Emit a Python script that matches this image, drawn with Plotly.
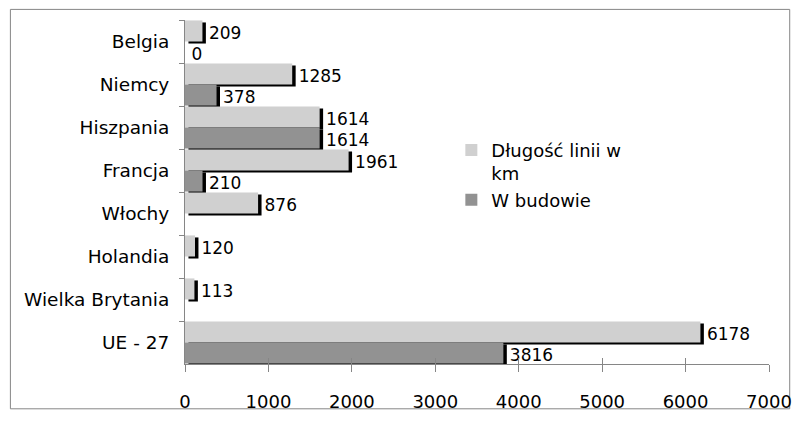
import plotly.graph_objects as go

categories = ["Belgia", "Niemcy", "Hiszpania", "Francja", "Włochy", "Holandia", "Wielka Brytania", "UE - 27"]
dlugosc = [209, 1285, 1614, 1961, 876, 120, 113, 6178]
budowa = [0, 378, 1614, 210, None, None, None, 3816]
series_names = ["Długość linii w<br>km", "W budowie"]
x_ticks = [0, 1000, 2000, 3000, 4000, 5000, 6000, 7000]

W, H = 804, 424
L, R, T, B = 185, 27, 20, 47
pw, ph = W - L - R, H - T - B
xmax = 7000
shadow_px = 3.5
dx = shadow_px * xmax / pw
dy = shadow_px * len(categories) / ph

w = 0.49
offsets = [-w, 0.0]
colors = ["#D0D0D0", "#929292"]
FONT = "DejaVu Sans"
AX = "#868686"

fig = go.Figure()
series = [dlugosc, budowa]
# shadows first (drawn beneath), carrying the value labels
for vals, off in zip(series, offsets):
    fig.add_trace(go.Bar(
        y=categories, x=vals, orientation="h", base=dx,
        offset=off + dy * 0.6, width=w, marker=dict(color="black", line=dict(width=0)),
        text=["" if v is None else str(v) for v in vals],
        textposition="outside", constraintext="none", cliponaxis=False,
        textfont=dict(color="black", size=17, family=FONT),
        showlegend=False, hoverinfo="skip",
    ))
for vals, off, name, col in zip(series, offsets, series_names, colors):
    fig.add_trace(go.Bar(
        y=categories, x=vals, orientation="h", name=name,
        offset=off, width=w, marker=dict(color=col, line=dict(width=0)),
        hoverinfo="x+y",
    ))
# empty trace so the inner-tick overlay axis is drawn
fig.add_trace(go.Scatter(x=[], y=[], xaxis="x2", yaxis="y", showlegend=False, hoverinfo="skip"))

fig.update_layout(
    width=W, height=H, margin=dict(l=L, r=R, t=T, b=B),
    paper_bgcolor="white", plot_bgcolor="white",
    font=dict(family=FONT, size=18, color="black"),
    showlegend=True,
    legend=dict(x=(455 - L) / pw, y=(H - B - 136) / ph, xanchor="left", yanchor="top",
                bgcolor="rgba(0,0,0,0)", font=dict(size=18, family=FONT),
                itemwidth=30, tracegroupgap=0, valign="top"),
    xaxis=dict(range=[0, xmax], tickvals=x_ticks, showgrid=False, zeroline=False,
               showline=True, linecolor=AX, linewidth=1,
               ticks="outside", ticklen=7, tickcolor=AX,
               ticklabelstandoff=14, tickfont=dict(size=18)),
    xaxis2=dict(range=[0, xmax], tickvals=x_ticks, overlaying="x", anchor="y", side="bottom",
                showgrid=False, zeroline=False, showline=False, showticklabels=False,
                ticks="inside", ticklen=6, tickcolor=AX),
    yaxis=dict(categoryorder="array", categoryarray=categories,
               range=[len(categories) - 0.5, -0.5], showgrid=False, zeroline=False,
               showline=True, linecolor=AX, linewidth=1,
               ticks="outside", ticklen=5, tickcolor=AX, tickson="boundaries",
               ticklabelstandoff=11, tickfont=dict(size=18.5)),
    shapes=[dict(type="rect", xref="paper", yref="paper",
                 x0=(8 - L) / pw, x1=(798 - L) / pw,
                 y0=(H - B - 423.5) / ph, y1=(H - B - 9) / ph,
                 line=dict(color=AX, width=1), layer="below")],
)

fig.write_html("out.html")
